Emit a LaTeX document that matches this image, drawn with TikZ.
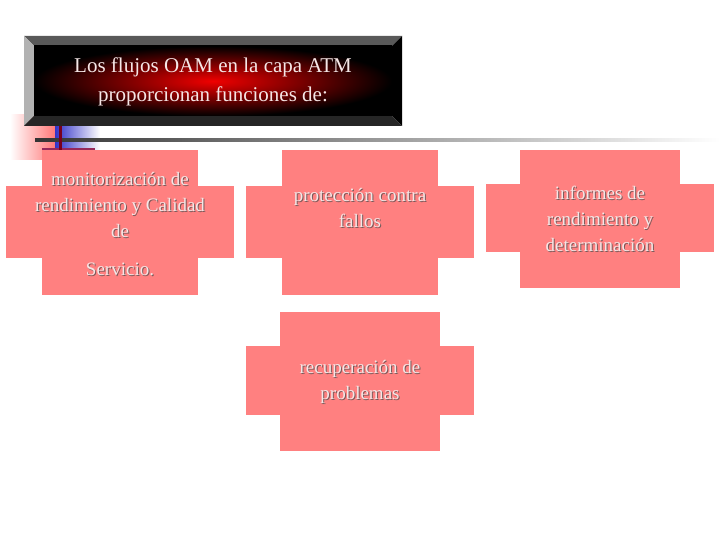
\documentclass[tikz,border=0pt]{standalone}
\usepackage{fontspec}
\setmainfont{Liberation Serif}
\definecolor{boxpink}{RGB}{255,128,128}
\definecolor{txtc}{RGB}{245,230,230}
\definecolor{shdc}{RGB}{120,90,90}
\definecolor{pinkdec}{RGB}{255,120,120}
\definecolor{bluedec}{RGB}{50,50,200}
\definecolor{purpdec}{RGB}{150,40,90}
\definecolor{darkred}{RGB}{120,0,30}
\definecolor{brightred}{RGB}{240,0,0}
\begin{document}
\begin{tikzpicture}[x=1pt,y=-1pt,
  lbl/.style={align=center,text=txtc,font=\fontsize{19}{26}\selectfont},
  shd/.style={align=center,text=shdc,font=\fontsize{19}{26}\selectfont}]
\useasboundingbox (0,0) rectangle (720,540);
% decoration
\fill[left color=white,right color=pinkdec] (10,115) rectangle (55,160);
\fill[left color=bluedec,right color=white] (55,122) rectangle (100,152);
\fill[purpdec] (42,148) rectangle (95,160);
\shade[left color=black!80,right color=white] (35,139) rectangle (720,142);
\fill[darkred] (59,125) rectangle (62,160);
% title
\fill[gray!70!black] (24,36) -- (402,36) -- (392,46) -- (34,46) -- cycle;
\fill[gray!60] (24,36) -- (34,46) -- (34,116) -- (24,126) -- cycle;
\fill[black] (402,36) -- (402,126) -- (392,116) -- (392,46) -- cycle;
\fill[black!85] (24,126) -- (34,116) -- (392,116) -- (402,126) -- cycle;
\shade[inner color=brightred,outer color=black] (34,46) rectangle (392,116);
\node[lbl,font=\fontsize{21}{29}\selectfont] (title) at (213,82) {Los flujos OAM en la capa ATM\\proporcionan funciones de:};
% boxes
\foreach \vx/\vy/\vw/\vh/\hx/\hy/\hw/\hh in {42/150/156/145/6/186/228/72, 282/150/156/145/246/186/228/72, 520/150/160/138/486/184/228/68, 280/312/160/139/246/346/228/69}{
  \fill[boxpink] (\vx,\vy) rectangle ++(\vw,\vh);
  \fill[boxpink] (\hx,\hy) rectangle ++(\hw,\hh);
}
\node[shd] at (121,206) {monitorización de\\rendimiento y Calidad\\de};
\node[lbl] (b1) at (120,205) {monitorización de\\rendimiento y Calidad\\de};
\node[shd] at (121,270) {Servicio.};
\node[lbl] (b1b) at (120,269) {Servicio.};
\node[shd] at (361,209) {protección contra\\fallos};
\node[lbl] (b2) at (360,208) {protección contra\\fallos};
\node[shd] at (601,220) {informes de\\rendimiento y\\determinación};
\node[lbl] (b3) at (600,219) {informes de\\rendimiento y\\determinación};
\node[shd] at (361,383) {recuperación de\\problemas};
\node[lbl] (b4) at (360,382) {recuperación de\\problemas};
\end{tikzpicture}
\end{document}
